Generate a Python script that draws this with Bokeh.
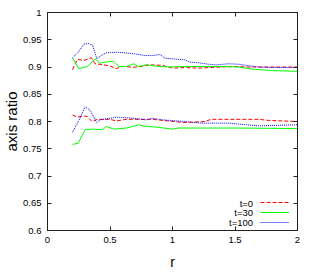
from bokeh.plotting import figure
from bokeh.models import (Range1d, FixedTicker, LinearAxis, Legend, LegendItem, Label)
from bokeh.embed import file_html
from bokeh.resources import INLINE

# t=0 (red dashed)
r_t0_hi = [0.2, 0.22, 0.24, 0.29, 0.35, 0.38, 0.45, 0.5, 0.55, 0.6, 0.69, 0.75, 0.81, 0.92, 1.0, 1.1, 1.21, 1.39, 1.5, 1.6, 1.77, 2.0]
v_t0_hi = [0.895, 0.905, 0.914, 0.912, 0.917, 0.906, 0.904, 0.902, 0.897, 0.901, 0.8995, 0.901, 0.904, 0.903, 0.898, 0.899, 0.898, 0.900, 0.901, 0.900, 0.900, 0.900]
r_t0_lo = [0.2, 0.24, 0.29, 0.32, 0.356, 0.395, 0.5, 0.55, 0.63, 0.79, 0.84, 0.92, 1.1, 1.26, 1.31, 1.5, 1.69, 1.77, 2.0]
v_t0_lo = [0.812, 0.808, 0.810, 0.809, 0.800, 0.804, 0.804, 0.801, 0.804, 0.804, 0.804, 0.802, 0.798, 0.800, 0.804, 0.804, 0.804, 0.802, 0.800]

# t=30 (green solid)
r_t30_hi = [0.2, 0.25, 0.32, 0.38, 0.42, 0.49, 0.53, 0.57, 0.63, 0.69, 0.725, 0.79, 0.89, 0.97, 1.08, 1.23, 1.375, 1.53, 1.64, 1.79, 2.0]
v_t30_hi = [0.917, 0.897, 0.901, 0.915, 0.907, 0.910, 0.910, 0.901, 0.901, 0.906, 0.901, 0.904, 0.901, 0.900, 0.901, 0.901, 0.901, 0.900, 0.896, 0.8935, 0.892]
r_t30_lo = [0.2, 0.245, 0.3, 0.36, 0.44, 0.47, 0.53, 0.63, 0.685, 0.725, 0.79, 0.86, 1.0, 1.05, 1.39, 1.53, 2.0]
v_t30_lo = [0.758, 0.760, 0.785, 0.786, 0.785, 0.791, 0.786, 0.788, 0.791, 0.794, 0.791, 0.790, 0.786, 0.788, 0.788, 0.788, 0.787]

# t=100 (blue dotted)
r_t100_hi = [0.2, 0.25, 0.29, 0.33, 0.36, 0.395, 0.43, 0.47, 0.55, 0.62, 0.7, 0.78, 0.84, 0.9, 0.94, 1.0, 1.1, 1.14, 1.2, 1.29, 1.35, 1.45, 1.53, 1.62, 1.69, 1.8, 1.9, 2.0]
v_t100_hi = [0.917, 0.928, 0.942, 0.943, 0.940, 0.915, 0.921, 0.926, 0.927, 0.926, 0.924, 0.921, 0.921, 0.923, 0.916, 0.915, 0.913, 0.909, 0.908, 0.905, 0.904, 0.906, 0.905, 0.902, 0.900, 0.899, 0.899, 0.899]
r_t100_lo = [0.2, 0.26, 0.30, 0.34, 0.395, 0.42, 0.5, 0.55, 0.685, 0.79, 0.84, 0.92, 1.1, 1.23, 1.39, 1.45, 1.59, 1.69, 2.0]
v_t100_lo = [0.780, 0.806, 0.827, 0.821, 0.798, 0.803, 0.806, 0.808, 0.806, 0.803, 0.806, 0.803, 0.800, 0.797, 0.797, 0.797, 0.794, 0.792, 0.794]

series_labels = ["t=0", "t=30", "t=100"]
x_ticks = [0, 0.5, 1, 1.5, 2]
x_tick_labels = ["0", "0.5", "1", "1.5", "2"]
y_ticks = [0.6, 0.65, 0.7, 0.75, 0.8, 0.85, 0.9, 0.95, 1.0]
y_tick_labels = ["0.6", "0.65", "0.7", "0.75", "0.8", "0.85", "0.9", "0.95", "1"]

FONT = "Liberation Sans"

p = figure(width=306, height=272, output_backend="svg", toolbar_location=None,
           x_range=Range1d(0, 2), y_range=Range1d(0.6, 1.0),
           min_border_left=44, min_border_right=9, min_border_top=12, min_border_bottom=37)
p.background_fill_color = "white"
p.border_fill_color = "white"
p.grid.visible = False
p.outline_line_color = "#222222"
p.outline_line_width = 1

def style_axis(ax, ticks, labels, show_labels=True):
    ax.ticker = FixedTicker(ticks=ticks)
    ax.major_label_overrides = {t: l for t, l in zip(ticks, labels)}
    ax.major_tick_in = 4
    ax.major_tick_out = 0
    ax.minor_tick_line_color = None
    ax.major_tick_line_color = "#222222"
    ax.axis_line_color = "#222222"
    ax.major_label_text_font = FONT
    ax.major_label_text_color = "black"
    if show_labels:
        ax.major_label_text_font_size = "9.5px"
        ax.major_label_standoff = 6
    else:
        ax.major_label_text_font_size = "0px"
        ax.major_label_standoff = 0

style_axis(p.xaxis[0], x_ticks, x_tick_labels)
style_axis(p.yaxis[0], y_ticks, y_tick_labels)
p.xaxis[0].axis_label = "r"
p.yaxis[0].axis_label = "axis ratio"
for ax in (p.xaxis[0], p.yaxis[0]):
    ax.axis_label_text_font = FONT
    ax.axis_label_text_font_style = "normal"
    ax.axis_label_text_color = "black"
p.xaxis[0].axis_label_text_font_size = "14px"
p.yaxis[0].axis_label_text_font_size = "15px"
p.xaxis[0].axis_label_standoff = 8
p.yaxis[0].axis_label_standoff = 0

top_ax = LinearAxis()
right_ax = LinearAxis()
p.add_layout(top_ax, "above")
p.add_layout(right_ax, "right")
style_axis(top_ax, x_ticks, [""] * len(x_ticks), show_labels=False)
style_axis(right_ax, y_ticks, [""] * len(y_ticks), show_labels=False)

colors = ["#ff0000", "#00ff00", "#0000ff"]
dashes = ["4 2", "solid", "1 1"]
widths = [1, 1, 1]
data = [
    ((r_t0_hi, v_t0_hi), (r_t0_lo, v_t0_lo)),
    ((r_t30_hi, v_t30_hi), (r_t30_lo, v_t30_lo)),
    ((r_t100_hi, v_t100_hi), (r_t100_lo, v_t100_lo)),
]
first_renderers = []
for (hi, lo), c, d, w in zip(data, colors, dashes, widths):
    r1 = p.line(hi[0], hi[1], line_color=c, line_dash=d, line_width=w)
    p.line(lo[0], lo[1], line_color=c, line_dash=d, line_width=w)
    first_renderers.append(r1)

legend = Legend(items=[LegendItem(label=" ", renderers=[r]) for r in first_renderers],
                location=(213, 3), orientation="vertical",
                glyph_width=29, glyph_height=10, label_height=10, label_width=0,
                label_standoff=0, spacing=0, padding=0, margin=0,
                label_text_font_size="1px",
                border_line_color=None, background_fill_alpha=0)
p.add_layout(legend, "center")

legend_y = [0.650, 0.6327, 0.6149]
for lab, yy in zip(series_labels, legend_y):
    p.add_layout(Label(x=1.645, y=yy, text=lab, text_align="right", text_baseline="middle",
                       text_font=FONT, text_font_size="9.5px", text_color="black"))

open("out.html", "w").write(file_html(p, INLINE))
